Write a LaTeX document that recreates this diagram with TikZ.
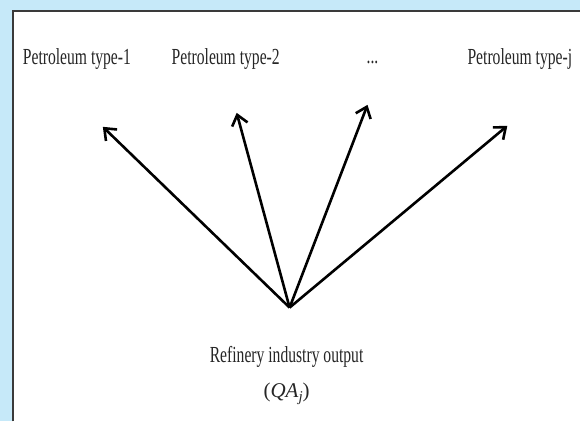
\documentclass[tikz,border=0pt]{standalone}
\usepackage{fontspec}
\setmainfont{Liberation Serif}
\newfontfamily\condserif[FakeStretch=0.68]{Liberation Serif}
\usetikzlibrary{arrows.meta}
\definecolor{bgblue}{HTML}{C6E9F9}
\definecolor{framegray}{HTML}{3A3A3A}
\tikzset{
  lbl/.style={inner sep=0pt, anchor=base, font=\condserif\fontsize{23}{25}\selectfont, text=black!85},
  outarrow/.style={line width=2.6pt, -{Straight Barb[length=10pt,width=16pt,line width=2.6pt]}}
}
\begin{document}
\begin{tikzpicture}[x=1pt,y=-1pt]
\fill[bgblue] (0,0) rectangle (581,422);
\fill[white] (12,10) rectangle (581,422);
\draw[framegray, line width=1.6pt] (12.8,422) -- (12.8,10.8) -- (581,10.8);
\useasboundingbox (0,0) rectangle (581,422);

\node[lbl] (p1) at (77,65) {Petroleum type-1};
\node[lbl] (p2) at (226,65) {Petroleum type-2};
\node[lbl] (pd) at (373,64) {...};
\node[lbl, anchor=base west] (pj) at (468,65) {Petroleum type-j};

\node[lbl] (ref) at (287,363) {Refinery industry output};
\node[inner sep=0pt, anchor=base, font=\fontsize{21}{23}\selectfont, text=black!85] (qa) at (287,398) {(\textit{QA}\raisebox{-4pt}{\fontsize{15}{16}\selectfont\textit{j}})};

\coordinate (o) at (290,308);
\coordinate (e1) at (103,127);
\coordinate (e2) at (237,113);
\coordinate (e3) at (368,105);
\coordinate (e4) at (508,126);

\draw[outarrow] (o) -- (e1);
\draw[outarrow] (o) -- (e2);
\draw[outarrow] (o) -- (e3);
\draw[outarrow] (o) -- (e4);
\end{tikzpicture}
\end{document}
